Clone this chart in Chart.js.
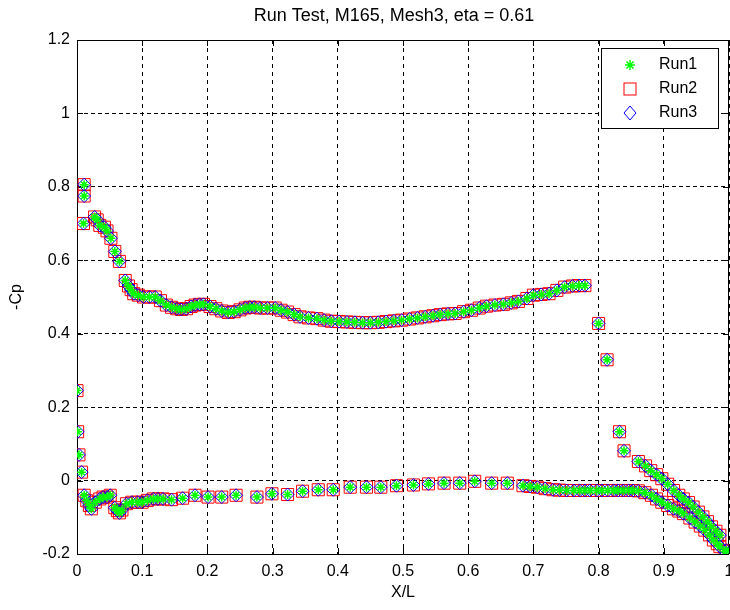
<!DOCTYPE html>
<html>
<head>
<meta charset="utf-8">
<script src="https://cdn.jsdelivr.net/npm/chart.js@4.4.1/dist/chart.umd.min.js"></script>
<style>
  body { margin: 0; background: #fff; overflow: hidden; }
  #wrap { width: 730px; height: 610px; }
  canvas { display: block; }
</style>
</head>
<body>
<div id="wrap"><canvas id="myChart" width="730" height="610"></canvas></div>
<script>
const ctx = document.getElementById("myChart");

const chartTitle = "Run Test, M165, Mesh3, eta = 0.61";
const xTicks = [0, 0.1, 0.2, 0.3, 0.4, 0.5, 0.6, 0.7, 0.8, 0.9, 1];
const yTicks = [-0.2, 0, 0.2, 0.4, 0.6, 0.8, 1, 1.2];
const runNames = ["Run1", "Run2", "Run3"];

// upper surface (incl. leading edge points), X/L and -Cp
const xUpper = [0, 0.001, 0.003, 0.007, 0.011, 0.011, 0.010, 0.027, 0.031, 0.035, 0.042, 0.046,
  0.052, 0.058, 0.065, 0.074, 0.079, 0.083, 0.087, 0.094, 0.102, 0.111, 0.120, 0.128, 0.137,
  0.145, 0.153, 0.160, 0.168, 0.175, 0.181, 0.188, 0.194, 0.204, 0.213, 0.222, 0.232, 0.241,
  0.250, 0.258, 0.265, 0.272, 0.281, 0.292, 0.304, 0.313, 0.323, 0.333, 0.342, 0.355, 0.368,
  0.379, 0.390, 0.402, 0.414, 0.426, 0.438, 0.450, 0.462, 0.474, 0.486, 0.498, 0.510, 0.522,
  0.534, 0.546, 0.557, 0.569, 0.580, 0.593, 0.605, 0.617, 0.628, 0.641, 0.654, 0.666, 0.677,
  0.690, 0.700, 0.712, 0.724, 0.736, 0.748, 0.760, 0.770, 0.779, 0.800, 0.813, 0.832, 0.839,
  0.861, 0.872, 0.880, 0.889, 0.897, 0.906, 0.915, 0.923, 0.930, 0.938, 0.945, 0.953, 0.960,
  0.967, 0.973, 0.980, 0.986, 0.996];
const cpUpper = [0.245, 0.133, 0.070, 0.023, 0.806, 0.775, 0.700, 0.718, 0.710, 0.695, 0.690, 0.680,
  0.660, 0.624, 0.597, 0.545, 0.530, 0.520, 0.509, 0.505, 0.500, 0.500, 0.500, 0.490, 0.478,
  0.472, 0.468, 0.466, 0.468, 0.474, 0.478, 0.480, 0.480, 0.474, 0.468, 0.462, 0.458, 0.460,
  0.465, 0.470, 0.472, 0.472, 0.470, 0.470, 0.470, 0.464, 0.459, 0.452, 0.446, 0.443, 0.441,
  0.437, 0.434, 0.433, 0.432, 0.431, 0.430, 0.430, 0.431, 0.433, 0.435, 0.437, 0.440, 0.443,
  0.446, 0.449, 0.452, 0.454, 0.455, 0.460, 0.464, 0.470, 0.475, 0.478, 0.480, 0.484, 0.488,
  0.496, 0.505, 0.507, 0.509, 0.518, 0.527, 0.530, 0.531, 0.531, 0.428, 0.329, 0.133, 0.081,
  0.052, 0.040, 0.027, 0.016, 0.005, -0.010, -0.027, -0.040, -0.050, -0.060, -0.072, -0.086, -0.099,
  -0.112, -0.126, -0.138, -0.149, -0.190];

// lower surface
const xLower = [0.011, 0.015, 0.019, 0.022, 0.028, 0.035, 0.040, 0.046, 0.051, 0.058, 0.062, 0.065,
  0.069, 0.076, 0.084, 0.093, 0.100, 0.108, 0.117, 0.124, 0.132, 0.145, 0.162, 0.181, 0.201,
  0.222, 0.244, 0.276, 0.299, 0.323, 0.346, 0.370, 0.393, 0.419, 0.444, 0.466, 0.490, 0.516,
  0.539, 0.563, 0.587, 0.610, 0.636, 0.660, 0.684, 0.695, 0.706, 0.718, 0.730, 0.740, 0.751,
  0.762, 0.771, 0.779, 0.787, 0.797, 0.805, 0.814, 0.823, 0.830, 0.838, 0.846, 0.853, 0.861,
  0.871, 0.881, 0.889, 0.897, 0.906, 0.915, 0.923, 0.930, 0.940, 0.948, 0.956, 0.963, 0.970,
  0.976, 0.982, 0.986, 0.994];
const cpLower = [-0.040, -0.055, -0.068, -0.077, -0.059, -0.050, -0.045, -0.045, -0.040, -0.074, -0.082, -0.088,
  -0.080, -0.063, -0.059, -0.059, -0.059, -0.054, -0.050, -0.050, -0.050, -0.052, -0.048, -0.040, -0.045,
  -0.045, -0.040, -0.045, -0.036, -0.038, -0.029, -0.025, -0.025, -0.018, -0.018, -0.018, -0.014, -0.012,
  -0.009, -0.007, -0.007, -0.002, -0.007, -0.007, -0.014, -0.016, -0.018, -0.022, -0.025, -0.026, -0.027,
  -0.027, -0.027, -0.027, -0.027, -0.027, -0.027, -0.027, -0.027, -0.027, -0.027, -0.027, -0.027, -0.028,
  -0.033, -0.040, -0.050, -0.059, -0.068, -0.077, -0.083, -0.090, -0.102, -0.113, -0.124, -0.135, -0.148,
  -0.162, -0.172, -0.180, -0.194];

const points = xUpper.map((x, i) => ({ x: x, y: cpUpper[i] }))
  .concat(xLower.map((x, i) => ({ x: x, y: cpLower[i] })));

const FONT = "'Liberation Sans', Arial, sans-serif";

// MATLAB-like frame, inner ticks, title and legend
const matlabBits = {
  id: "matlabBits",
  beforeDatasetsDraw(chart) {
    const { ctx, chartArea: a, scales } = chart;
    ctx.save();
    ctx.strokeStyle = "#000";
    ctx.lineWidth = 1;
    ctx.beginPath();
    xTicks.forEach((t) => {
      const px = Math.round(scales.x.getPixelForValue(t)) + 0.5;
      ctx.moveTo(px, a.bottom); ctx.lineTo(px, a.bottom - 6);
      ctx.moveTo(px, a.top); ctx.lineTo(px, a.top + 6);
    });
    yTicks.forEach((t) => {
      const py = Math.round(scales.y.getPixelForValue(t)) + 0.5;
      ctx.moveTo(a.left, py); ctx.lineTo(a.left + 6, py);
      ctx.moveTo(a.right, py); ctx.lineTo(a.right - 6, py);
    });
    ctx.stroke();
    ctx.strokeRect(Math.round(a.left) + 0.5, Math.round(a.top) + 0.5,
      Math.round(a.right - a.left) - 1, Math.round(a.bottom - a.top));
    ctx.fillStyle = "#000";
    ctx.font = "18px " + FONT;
    ctx.textAlign = "center";
    ctx.textBaseline = "middle";
    ctx.fillText(chartTitle, (a.left + a.right) / 2 - 9, 16);
    ctx.restore();
  },
  afterDatasetsDraw(chart) {
    const { ctx } = chart;
    const bx = 601.5, by = 48.5, bw = 117, bh = 80;
    ctx.save();
    ctx.fillStyle = "#fff";
    ctx.fillRect(bx, by, bw, bh);
    ctx.strokeStyle = "#000";
    ctx.lineWidth = 1;
    ctx.strokeRect(bx, by, bw, bh);
    const mx = 630;
    const rows = [65, 89, 113];
    // star
    ctx.strokeStyle = "#00ff00";
    ctx.lineWidth = 1.5;
    ctx.beginPath();
    for (let k = 0; k < 4; k++) {
      const ang = k * Math.PI / 4;
      ctx.moveTo(mx - 5 * Math.cos(ang), rows[0] - 5 * Math.sin(ang));
      ctx.lineTo(mx + 5 * Math.cos(ang), rows[0] + 5 * Math.sin(ang));
    }
    ctx.stroke();
    // square
    ctx.strokeStyle = "#ff0000";
    ctx.lineWidth = 1;
    ctx.strokeRect(mx - 6, rows[1] - 6, 12, 12);
    // diamond
    ctx.strokeStyle = "#0000ff";
    ctx.beginPath();
    ctx.moveTo(mx, rows[2] - 7);
    ctx.lineTo(mx + 6, rows[2]);
    ctx.lineTo(mx, rows[2] + 7);
    ctx.lineTo(mx - 6, rows[2]);
    ctx.closePath();
    ctx.stroke();
    ctx.fillStyle = "#000";
    ctx.font = "16px " + FONT;
    ctx.textAlign = "left";
    ctx.textBaseline = "middle";
    runNames.forEach((n, i) => ctx.fillText(n, 659, rows[i]));
    ctx.restore();
  },
};

new Chart(ctx, {
  type: "scatter",
  data: {
    datasets: [
      {
        label: runNames[0],
        data: points,
        pointStyle: "star",
        radius: 4.5,
        borderWidth: 1.5,
        borderColor: "#00ff00",
        backgroundColor: "#00ff00",
        order: 0,
      },
      {
        label: runNames[1],
        data: points,
        pointStyle: "rect",
        radius: 8.5,
        borderWidth: 1,
        borderColor: "#ff0000",
        backgroundColor: "rgba(0,0,0,0)",
        order: 2,
      },
      {
        label: runNames[2],
        data: points,
        pointStyle: "rectRot",
        radius: 6.5,
        borderWidth: 1,
        borderColor: "#0000ff",
        backgroundColor: "rgba(0,0,0,0)",
        order: 1,
      },
    ],
  },
  options: {
    responsive: false,
    animation: false,
    events: [],
    layout: { autoPadding: false, padding: { top: 40, right: 1, left: 0, bottom: 0 } },
    plugins: {
      legend: { display: false },
      tooltip: { enabled: false },
      title: { display: false },
    },
    scales: {
      x: {
        type: "linear",
        min: 0,
        max: 1,
        afterBuildTicks: (scale) => { scale.ticks = xTicks.map((v) => ({ value: v })); },
        afterFit: (scale) => { scale.height = 56; scale.paddingLeft = 0; scale.paddingRight = 0; },
        grid: { color: "#000", lineWidth: 1, drawTicks: false },
        border: { display: false, dash: [4, 4] },
        ticks: {
          padding: 8,
          color: "#000",
          font: { family: FONT, size: 16 },
          maxRotation: 0,
          callback: (v) => String(+v.toFixed(1)),
        },
        title: {
          display: true,
          text: "X/L",
          color: "#000",
          font: { family: FONT, size: 16 },
          padding: { top: 0, bottom: 8 },
        },
      },
      y: {
        type: "linear",
        min: -0.2,
        max: 1.2,
        afterBuildTicks: (scale) => { scale.ticks = yTicks.map((v) => ({ value: v })); },
        afterFit: (scale) => { scale.width = 77; scale.paddingTop = 0; scale.paddingBottom = 0; },
        grid: { color: "#000", lineWidth: 1, drawTicks: false },
        border: { display: false, dash: [4, 3] },
        ticks: {
          padding: 7,
          color: "#000",
          font: { family: FONT, size: 16 },
          callback: (v) => String(+v.toFixed(1)),
        },
        title: {
          display: true,
          text: "-Cp",
          color: "#000",
          font: { family: FONT, size: 16 },
          padding: { top: 7, bottom: 0 },
        },
      },
    },
  },
  plugins: [matlabBits],
});
</script>
</body>
</html>
